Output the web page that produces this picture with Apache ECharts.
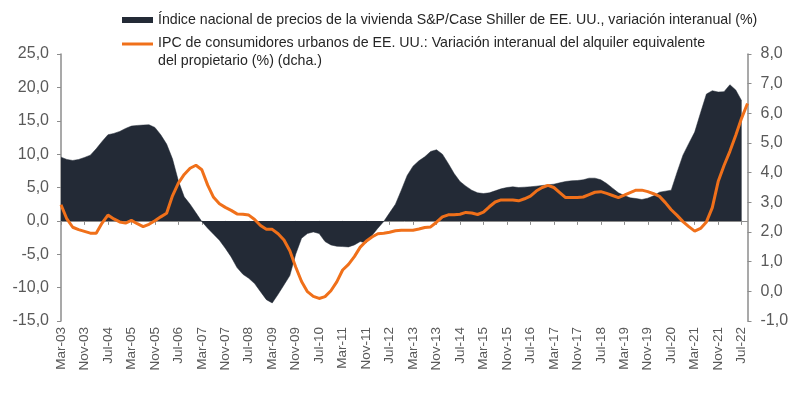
<!DOCTYPE html>
<html>
<head>
<meta charset="utf-8">
<script src="https://cdn.jsdelivr.net/npm/echarts@6/dist/echarts.min.js"></script>
<style>
html,body{margin:0;padding:0;background:#fff;}
#chart{width:800px;height:394px;}
</style>
</head>
<body>
<div id="chart"></div>
<script>
// Bimonthly observations, Mar-03 .. Sep-22
const monthNames = ['Jan','Feb','Mar','Apr','May','Jun','Jul','Aug','Sep','Oct','Nov','Dec'];
const startYear = 2003, startMonth = 2, stepMonths = 2, nPoints = 118;
const categories = [];
for (let j = 0; j < nPoints; j++) {
  const m = startMonth + j * stepMonths;
  const y = startYear + Math.floor(m / 12);
  categories.push(monthNames[m % 12] + '-' + String(y % 100).padStart(2, '0'));
}

const seriesNames = [
  'Índice nacional de precios de la vivienda S&P/Case Shiller de EE. UU., variación interanual (%)',
  'IPC de consumidores urbanos de EE. UU.: Variación interanual del alquiler equivalente del propietario (%) (dcha.)'
];
const legendLine1 = 'IPC de consumidores urbanos de EE. UU.: Variación interanual del alquiler equivalente';
const legendLine2 = 'del propietario (%) (dcha.)';

// S&P/Case-Shiller national HPI, YoY % (left axis)
const caseShiller = [
  9.55, 9.2, 9.05, 9.2, 9.5, 9.85, 10.8, 11.9, 12.9, 13.1,
  13.4, 13.85, 14.2, 14.3, 14.35, 14.4, 14.0, 12.9, 11.5, 9.3,
  6.0, 3.6, 2.5, 1.2, -0.1, -1.1, -2.0, -2.9, -4.1, -5.4,
  -7.0, -8.0, -8.6, -9.4, -10.6, -11.8, -12.3, -11.0, -9.6, -8.2,
  -5.0, -2.6, -1.9, -1.65, -1.9, -3.1, -3.6, -3.8, -3.85, -3.9,
  -3.6, -3.1, -3.3, -2.2, -1.1, -0.1, 1.2, 2.5, 4.6, 6.8,
  8.2, 9.0, 9.6, 10.4, 10.65, 10.0, 8.6, 7.1, 5.9, 5.2,
  4.6, 4.2, 4.1, 4.2, 4.5, 4.8, 5.0, 5.1, 5.0, 5.05,
  5.1, 5.2, 5.3, 5.4, 5.5, 5.7, 5.9, 6.0, 6.05, 6.15,
  6.4, 6.4, 6.15, 5.6, 4.9, 4.2, 3.8, 3.45, 3.35, 3.2,
  3.4, 3.75, 4.3, 4.45, 4.6, 7.3, 9.85, 11.6, 13.3, 16.2,
  19.0, 19.5, 19.3, 19.35, 20.4, 19.6, 18.0, null
];

// CPI owners' equivalent rent, YoY % (right axis)
const oer = [
  2.92, 2.44, 2.16, 2.08, 2.02, 1.96, 1.96, 2.30, 2.57, 2.44,
  2.34, 2.30, 2.39, 2.28, 2.18, 2.26, 2.38, 2.51, 2.63, 3.22,
  3.65, 3.94, 4.15, 4.25, 4.10, 3.58, 3.17, 2.95, 2.83, 2.73,
  2.61, 2.60, 2.57, 2.42, 2.22, 2.09, 2.09, 1.94, 1.73, 1.37,
  0.82, 0.33, -0.01, -0.17, -0.24, -0.18, 0.02, 0.32, 0.72, 0.91,
  1.17, 1.49, 1.69, 1.83, 1.94, 1.96, 1.99, 2.04, 2.06, 2.06,
  2.06, 2.10, 2.15, 2.17, 2.33, 2.51, 2.58, 2.58, 2.60, 2.66,
  2.64, 2.59, 2.67, 2.85, 3.01, 3.08, 3.08, 3.08, 3.05, 3.12,
  3.21, 3.38, 3.50, 3.57, 3.50, 3.33, 3.16, 3.16, 3.16, 3.18,
  3.26, 3.34, 3.36, 3.30, 3.23, 3.16, 3.24, 3.33, 3.41, 3.41,
  3.36, 3.29, 3.20, 2.99, 2.75, 2.56, 2.35, 2.18, 2.03, 2.12,
  2.34, 2.82, 3.70, 4.24, 4.72, 5.26, 5.84, 6.33
];

const leftAxis = { min: -15, max: 25, interval: 5 };
const rightAxis = { min: -1, max: 8, interval: 1 };

const darkColor = '#232a36';
const orangeColor = '#f0701a';
const axisColor = '#8c8c8c';
const labelColor = '#595959';
const legendColor = '#262626';
const fontFam = 'Liberation Sans, Arial, sans-serif';
const legendFont = 14.2;

const fmt = v => v.toFixed(1).replace('.', ',');

const chart = echarts.init(document.getElementById('chart'), null, { renderer: 'canvas' });
chart.setOption({
  animation: false,
  backgroundColor: '#ffffff',
  legend: [
    {
      data: [seriesNames[0]],
      left: 122, top: 13, padding: 0,
      icon: 'rect', itemWidth: 31, itemHeight: 6, itemGap: 0,
      selectedMode: false,
      textStyle: { fontFamily: fontFam, fontSize: legendFont, color: legendColor }
    },
    {
      data: [seriesNames[1]],
      left: 122, top: 36, padding: 0,
      icon: 'rect', itemWidth: 31, itemHeight: 3, itemGap: 0,
      selectedMode: false,
      formatter: () => '{a|' + legendLine1 + '}\n{b|' + legendLine2 + '}',
      textStyle: {
        fontFamily: fontFam, fontSize: legendFont, color: legendColor,
        rich: {
          a: { fontFamily: fontFam, fontSize: legendFont, color: legendColor, lineHeight: 34, verticalAlign: 'bottom' },
          b: { fontFamily: fontFam, fontSize: legendFont, color: legendColor, lineHeight: 22 }
        }
      }
    }
  ],
  grid: { left: 61, right: 52.5, top: 54, bottom: 73, containLabel: false },
  xAxis: [
    {
      type: 'category', data: categories, boundaryGap: false, position: 'bottom',
      axisLine: { show: false, onZero: false },
      axisTick: { show: false },
      axisLabel: { interval: 3, rotate: 90, margin: 6, fontFamily: fontFam, fontSize: 13.5, color: labelColor }
    },
    {
      type: 'category', data: categories, boundaryGap: false, position: 'bottom',
      axisLine: { show: true, onZero: true, onZeroAxisIndex: 0, lineStyle: { color: axisColor, width: 1 } },
      axisTick: { show: true, interval: 3, length: 4, lineStyle: { color: axisColor } },
      axisLabel: { show: false },
      splitLine: { show: false }
    }
  ],
  yAxis: [
    {
      type: 'value', position: 'left', min: leftAxis.min, max: leftAxis.max, interval: leftAxis.interval,
      axisLine: { show: true, lineStyle: { color: axisColor, width: 1.5 } },
      axisTick: { show: true, length: 4, lineStyle: { color: axisColor } },
      splitLine: { show: false },
      axisLabel: { margin: 12, formatter: fmt, fontFamily: fontFam, fontSize: 16, color: labelColor }
    },
    {
      type: 'value', position: 'right', min: rightAxis.min, max: rightAxis.max, interval: rightAxis.interval,
      axisLine: { show: true, lineStyle: { color: axisColor, width: 1.5 } },
      axisTick: { show: true, length: 4, lineStyle: { color: axisColor } },
      splitLine: { show: false },
      axisLabel: { margin: 13, formatter: fmt, fontFamily: fontFam, fontSize: 16, color: labelColor }
    }
  ],
  series: [
    {
      name: seriesNames[0], type: 'line', xAxisIndex: 0, yAxisIndex: 0,
      data: caseShiller, showSymbol: false, symbol: 'none',
      itemStyle: { color: darkColor },
      lineStyle: { width: 0.5, color: darkColor },
      areaStyle: { color: darkColor, opacity: 1 },
      z: 2
    },
    {
      name: seriesNames[1], type: 'line', xAxisIndex: 0, yAxisIndex: 1,
      data: oer, showSymbol: false, symbol: 'none',
      itemStyle: { color: orangeColor },
      lineStyle: { width: 3, color: orangeColor },
      z: 3
    }
  ]
});
</script>
</body>
</html>
